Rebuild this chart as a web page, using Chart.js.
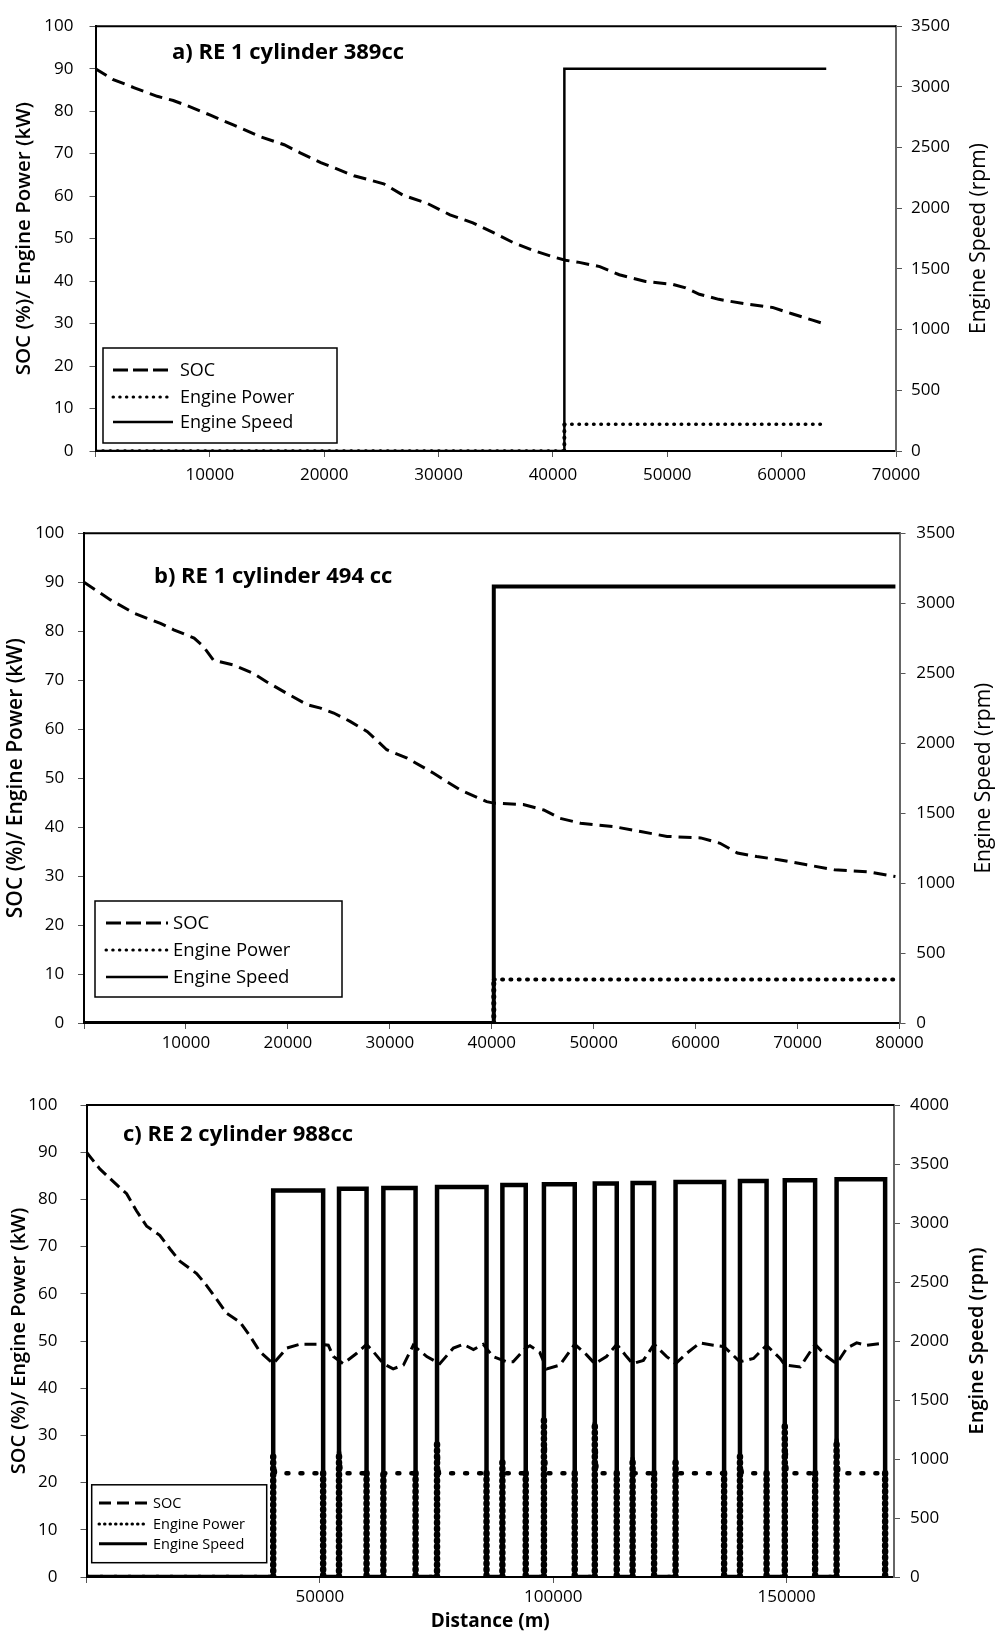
<!DOCTYPE html>
<html lang="en">
<head>
<meta charset="UTF-8" />
<title>SOC, Engine Power and Engine Speed vs Distance</title>
<script src="https://cdn.jsdelivr.net/npm/chart.js"></script>
<style>
  body { margin: 0; background: #fff; width: 997px; height: 1633px; position: relative; overflow: hidden; }
  canvas { position: absolute; left: 0; }
</style>
</head>
<body>
<canvas id="chartA" width="997" height="500" style="top:0px"></canvas>
<canvas id="chartB" width="997" height="560" style="top:500px"></canvas>
<canvas id="chartC" width="997" height="573" style="top:1060px"></canvas>
<script>
// a) RE 1 cylinder 389cc
const socADist = [0, 1500, 3400, 5400, 6800, 8000, 10100, 12100, 14400, 16500, 17900, 19700, 22600, 25200, 26900, 29000, 31000, 33000, 34800, 36500, 38300, 40000, 41100, 42300, 44100, 45800, 48100, 50500, 51600, 52800, 54500, 56900, 59200, 60900, 62700, 63900];
const socAVal = [90, 87.5, 85.5, 83.5, 82.5, 81.3, 79, 76.7, 74, 72.1, 70.2, 67.9, 64.8, 62.9, 60.2, 58.3, 55.6, 53.7, 51.4, 49.1, 47.2, 45.7, 44.9, 44.4, 43.4, 41.5, 39.9, 39.2, 38.4, 36.9, 35.7, 34.6, 33.8, 32.3, 30.8, 29.8];
const powADist = [0, 41000, 41000, 63800];
const powAVal = [0, 0, 6.3, 6.3];
const spdADist = [0, 41000, 41000, 63900];
const spdAVal = [0, 0, 3150, 3150];
const xTicksA = [0, 10000, 20000, 30000, 40000, 50000, 60000, 70000];

// b) RE 1 cylinder 494 cc
const socBDist = [0, 2600, 4900, 7500, 8800, 10800, 11700, 12700, 14700, 16600, 17900, 19900, 21900, 23200, 24500, 26100, 27800, 29700, 31700, 34300, 36900, 39500, 40200, 43100, 45100, 46700, 48700, 52000, 54600, 57200, 60500, 62400, 64100, 66000, 68300, 70900, 73600, 76800, 79600];
const socBVal = [90, 86.4, 83.7, 81.6, 80.3, 78.6, 76.9, 74.1, 73.1, 71.4, 69.7, 67.3, 65, 64.3, 63.3, 61.6, 59.5, 55.8, 54.1, 51, 47.6, 45.2, 44.9, 44.6, 43.5, 41.8, 40.8, 40.1, 39.1, 38.1, 37.8, 36.7, 34.7, 34, 33.3, 32.3, 31.3, 30.9, 29.9];
const powBDist = [0, 40200, 40200, 79600];
const powBVal = [0, 0, 8.9, 8.9];
const spdBDist = [0, 40200, 40200, 79600];
const spdBVal = [0, 0, 3120, 3120];
const xTicksB = [0, 10000, 20000, 30000, 40000, 50000, 60000, 70000, 80000];

// c) RE 2 cylinder 988cc
const socCDist = [0, 2900, 5700, 8600, 10700, 12900, 15700, 17900, 20000, 23600, 25700, 27900, 30000, 32900, 35000, 37100, 40000, 42900, 45700, 50000, 51800, 52900, 55000, 57900, 60000, 61400, 63600, 65700, 67900, 70000, 72900, 75700, 78600, 80700, 82900, 85000, 87100, 90000, 91400, 94100, 95000, 97100, 98600, 101400, 104600, 107100, 108900, 111400, 113600, 115700, 117000, 119300, 121600, 124300, 126200, 128600, 131400, 134300, 136600, 140000, 142900, 145700, 148600, 149600, 152900, 156100, 158600, 160700, 162900, 165000, 167100, 171100];
const socCVal = [90, 86.4, 83.8, 81.2, 77.6, 74.3, 72.4, 69.5, 66.9, 64.3, 61.8, 58.8, 55.9, 54, 51.1, 47.8, 45.2, 48.5, 49.3, 49.3, 49.1, 46.7, 45.2, 47.4, 49.3, 47.8, 45.2, 44.1, 44.9, 49.1, 46.7, 45.2, 48.5, 49.3, 48.2, 49.3, 46.7, 45.6, 45.6, 48.5, 49, 47.6, 44.1, 44.9, 49.3, 47.1, 45.2, 46.7, 49.3, 46.7, 45.2, 45.9, 49.3, 46.7, 45.2, 47.4, 49.6, 49.1, 48.8, 45.6, 46.3, 49.1, 46.3, 44.9, 44.5, 49.3, 46.7, 45.2, 48.5, 49.6, 49.1, 49.6];
const powCDist = [0, 40000, 40000, 40400, 50700, 50700, 54100, 54100, 54500, 60000, 60000, 63600, 63600, 64000, 70500, 70500, 75100, 75100, 75500, 85700, 85700, 89100, 89100, 89500, 94100, 94100, 98000, 98000, 98400, 104600, 104600, 108900, 108900, 109300, 113600, 113600, 117000, 117000, 117400, 121600, 121600, 126200, 126200, 126600, 136600, 136600, 140000, 140000, 140400, 145700, 145700, 149600, 149600, 150000, 156100, 156100, 160700, 160700, 161100, 171100, 171100];
const powCVal = [0, 0, 25.5, 22, 22, 0, 0, 26.5, 22, 22, 0, 0, 22, 22, 22, 0, 0, 28.3, 22, 22, 0, 0, 24.4, 22, 22, 0, 0, 33.3, 22, 22, 0, 0, 32.6, 22, 22, 0, 0, 25.1, 22, 22, 0, 0, 24.4, 22, 22, 0, 0, 25.5, 22, 22, 0, 0, 32.2, 22, 22, 0, 0, 29, 22, 22, 0];
const spdCDist = [0, 40000, 40000, 50700, 50700, 54100, 54100, 60000, 60000, 63600, 63600, 70500, 70500, 75100, 75100, 85700, 85700, 89100, 89100, 94100, 94100, 98000, 98000, 104600, 104600, 108900, 108900, 113600, 113600, 117000, 117000, 121600, 121600, 126200, 126200, 136600, 136600, 140000, 140000, 145700, 145700, 149600, 149600, 156100, 156100, 160700, 160700, 171100, 171100];
const spdCVal = [0, 0, 3276, 3276, 0, 0, 3291, 3291, 0, 0, 3297, 3297, 0, 0, 3305, 3305, 0, 0, 3323, 3323, 0, 0, 3329, 3329, 0, 0, 3335, 3335, 0, 0, 3338, 3338, 0, 0, 3347, 3347, 0, 0, 3356, 3356, 0, 0, 3362, 3362, 0, 0, 3371, 3371, 0];
const xTicksC = [0, 50000, 100000, 150000];

const seriesNames = ['SOC', 'Engine Power', 'Engine Speed'];
const FONT = '"Open Sans", "DejaVu Sans", sans-serif';

function pts(xs, ys) {
  return xs.map((x, i) => ({ x: x, y: ys[i] }));
}

// frame top line, right axis title, panel title and boxed legend
const panelDecor = {
  id: 'panelDecor',
  afterDraw(chart, args, o) {
    const ctx = chart.ctx;
    const a = chart.chartArea;
    ctx.save();
    ctx.strokeStyle = '#000';
    ctx.lineWidth = 2;
    ctx.beginPath();
    ctx.moveTo(a.left, a.top);
    ctx.lineTo(a.right, a.top);
    ctx.stroke();

    // right title reads bottom to top, like the left one
    ctx.save();
    ctx.translate(o.rTitleX, (a.top + a.bottom) / 2);
    ctx.rotate(-Math.PI / 2);
    ctx.fillStyle = '#000';
    ctx.font = o.rTitleWeight + ' ' + o.rTitleSize + 'px ' + FONT;
    ctx.textAlign = 'center';
    ctx.textBaseline = 'middle';
    ctx.fillText('Engine Speed (rpm)', 0, 0);
    ctx.restore();

    ctx.fillStyle = '#000';
    ctx.font = 'bold ' + o.titleSize + 'px ' + FONT;
    ctx.textBaseline = 'alphabetic';
    ctx.textAlign = 'left';
    ctx.fillText(o.title, o.titleX, o.titleY);

    const b = o.box;
    ctx.fillStyle = '#fff';
    ctx.fillRect(b[0], b[1], b[2] - b[0], b[3] - b[1]);
    ctx.strokeStyle = '#000';
    ctx.lineWidth = 1.5;
    ctx.strokeRect(b[0], b[1], b[2] - b[0], b[3] - b[1]);

    ctx.font = o.legendSize + 'px ' + FONT;
    ctx.textBaseline = 'middle';
    o.items.forEach((it, i) => {
      const y = o.rows[i];
      ctx.beginPath();
      ctx.setLineDash(it.dash);
      ctx.lineCap = it.cap;
      ctx.lineWidth = it.width;
      ctx.strokeStyle = '#000';
      ctx.moveTo(o.sample[0], y);
      ctx.lineTo(o.sample[1], y);
      ctx.stroke();
      ctx.setLineDash([]);
      ctx.fillStyle = '#000';
      ctx.fillText(seriesNames[i], o.textX, y + 1);
    });
    ctx.restore();
  }
};

function makeChart(id, c) {
  const tickFont = { family: FONT, size: 17 };
  const vertical = s => s.p0.parsed.x === s.p1.parsed.x;
  return new Chart(document.getElementById(id), {
    type: 'line',
    data: {
      datasets: [
        { label: seriesNames[0], data: pts(c.socDist, c.socVal), yAxisID: 'y',
          borderColor: '#000', borderWidth: 3, borderDash: c.socDash, pointRadius: 0, tension: 0, fill: false },
        { label: seriesNames[1], data: pts(c.powDist, c.powVal), yAxisID: 'y',
          borderColor: '#000', borderWidth: c.powWidth, borderDash: c.powDash, borderCapStyle: 'round',
          segment: {
            borderDash: s => vertical(s) ? c.powDashV : c.powDash,
            borderWidth: s => vertical(s) ? c.powWidthV : c.powWidth
          },
          pointRadius: 0, tension: 0, fill: false },
        { label: seriesNames[2], data: pts(c.spdDist, c.spdVal), yAxisID: 'y1',
          borderColor: '#000', borderWidth: c.spdWidth, pointRadius: 0, tension: 0, fill: false }
      ]
    },
    options: {
      responsive: false,
      animation: false,
      devicePixelRatio: 1,
      layout: { padding: { top: c.padTop, left: 0, right: 0, bottom: 0 } },
      plugins: {
        legend: { display: false },
        tooltip: { enabled: false },
        panelDecor: c.decor
      },
      scales: {
        x: {
          type: 'linear', min: 0, max: c.xMax,
          afterFit: s => { s.height = c.xHeight; },
          afterBuildTicks: s => { s.ticks = c.xTicks.map(v => ({ value: v })); },
          ticks: { autoSkip: false, maxRotation: 0,
                   font: tickFont, color: '#000', padding: c.xPad,
                   callback: v => v === 0 ? '' : String(v) },
          grid: { drawOnChartArea: false, tickLength: 6, color: '#555' },
          border: { color: '#000', width: 2 },
          title: c.xTitle
            ? { display: true, text: c.xTitle, color: '#000', font: { family: FONT, size: 19, weight: 'bold' }, padding: { top: 0, bottom: 0 } }
            : { display: false }
        },
        y: {
          position: 'left', min: 0, max: 100,
          afterFit: s => { s.width = c.leftW; },
          ticks: { stepSize: 10, font: tickFont, color: '#000', padding: c.yPad, callback: v => String(v) },
          grid: { drawOnChartArea: false, tickLength: 6, color: '#555' },
          border: { color: '#000', width: 2 },
          title: { display: true, text: 'SOC (%)/ Engine Power (kW)', color: '#000',
                   font: { family: FONT, size: c.leftTitleSize, weight: '600' }, padding: { top: c.leftTitlePad, bottom: 0 } }
        },
        y1: {
          position: 'right', min: 0, max: c.rMax,
          afterFit: s => { s.width = c.rightW; },
          ticks: { stepSize: 500, font: tickFont, color: '#000', padding: c.rPad, callback: v => String(v) },
          grid: { drawOnChartArea: false, tickLength: 6, color: '#555' },
          border: { color: '#666', width: 2 },
          title: { display: false }
        }
      }
    },
    plugins: [panelDecor]
  });
}

makeChart('chartA', {
  socDist: socADist, socVal: socAVal, powDist: powADist, powVal: powAVal, spdDist: spdADist, spdVal: spdAVal,
  xTicks: xTicksA,
  socDash: [13, 7], powDash: [0.5, 6.8], powDashV: [0.5, 6], powWidth: 3.5, powWidthV: 4, spdWidth: 2.5,
  padTop: 15, xHeight: 49, leftW: 95.5, rightW: 101, xMax: 70000, rMax: 3500,
  xPad: 8, yPad: 16, rPad: 9,
  leftTitleSize: 20.5, leftTitlePad: 11.7,
  decor: {
    title: 'a) RE 1 cylinder 389cc', titleSize: 22, titleX: 172, titleY: 59,
    rTitleX: 979, rTitleSize: 21, rTitleWeight: 'normal',
    box: [103, 348, 337, 443], rows: [370, 397, 422], sample: [113, 173], textX: 180, legendSize: 18,
    items: [
      { dash: [15, 5], width: 3, cap: 'butt' },
      { dash: [0.5, 6.2], width: 3, cap: 'round' },
      { dash: [], width: 2.5, cap: 'butt' }
    ]
  }
});

makeChart('chartB', {
  socDist: socBDist, socVal: socBVal, powDist: powBDist, powVal: powBVal, spdDist: spdBDist, spdVal: spdBVal,
  xTicks: xTicksB,
  socDash: [13, 7], powDash: [1, 7.3], powDashV: [0.5, 6], powWidth: 4, powWidthV: 5, spdWidth: 4,
  padTop: 33.3, xHeight: 37, leftW: 84, rightW: 97.5, xMax: 80000, rMax: 3500,
  xPad: 4, yPad: 13.7, rPad: 10.7,
  leftTitleSize: 21, leftTitlePad: 3.4,
  decor: {
    title: 'b) RE 1 cylinder 494 cc', titleSize: 22, titleX: 154, titleY: 83,
    rTitleX: 983.7, rTitleSize: 21, rTitleWeight: 'normal',
    box: [95, 401, 342, 497], rows: [423, 450, 477], sample: [106, 168], textX: 173, legendSize: 18.5,
    items: [
      { dash: [15, 5], width: 3, cap: 'butt' },
      { dash: [0.5, 6.2], width: 3, cap: 'round' },
      { dash: [], width: 2.5, cap: 'butt' }
    ]
  }
});

makeChart('chartC', {
  socDist: socCDist, socVal: socCVal, powDist: powCDist, powVal: powCVal, spdDist: spdCDist, spdVal: spdCVal,
  xTicks: xTicksC,
  socDash: [12, 6], powDash: [2, 12], powDashV: [0.5, 5.5], powWidth: 4.5, powWidthV: 6.5, spdWidth: 4.5,
  padTop: 45, xHeight: 56, leftW: 86.5, rightW: 103, xMax: 173000, rMax: 4000,
  xPad: 4, yPad: 23, rPad: 10, xTitle: 'Distance (m)',
  leftTitleSize: 20, leftTitlePad: 7,
  decor: {
    title: 'c) RE 2 cylinder 988cc', titleSize: 22, titleX: 123, titleY: 81,
    rTitleX: 977, rTitleSize: 20, rTitleWeight: '600',
    box: [91.7, 424.8, 266.7, 502.7], rows: [443, 464, 483.7], sample: [99, 147], textX: 153, legendSize: 14.5,
    items: [
      { dash: [12, 6], width: 3, cap: 'butt' },
      { dash: [0.5, 5], width: 3, cap: 'round' },
      { dash: [], width: 3, cap: 'butt' }
    ]
  }
});
</script>
</body>
</html>
